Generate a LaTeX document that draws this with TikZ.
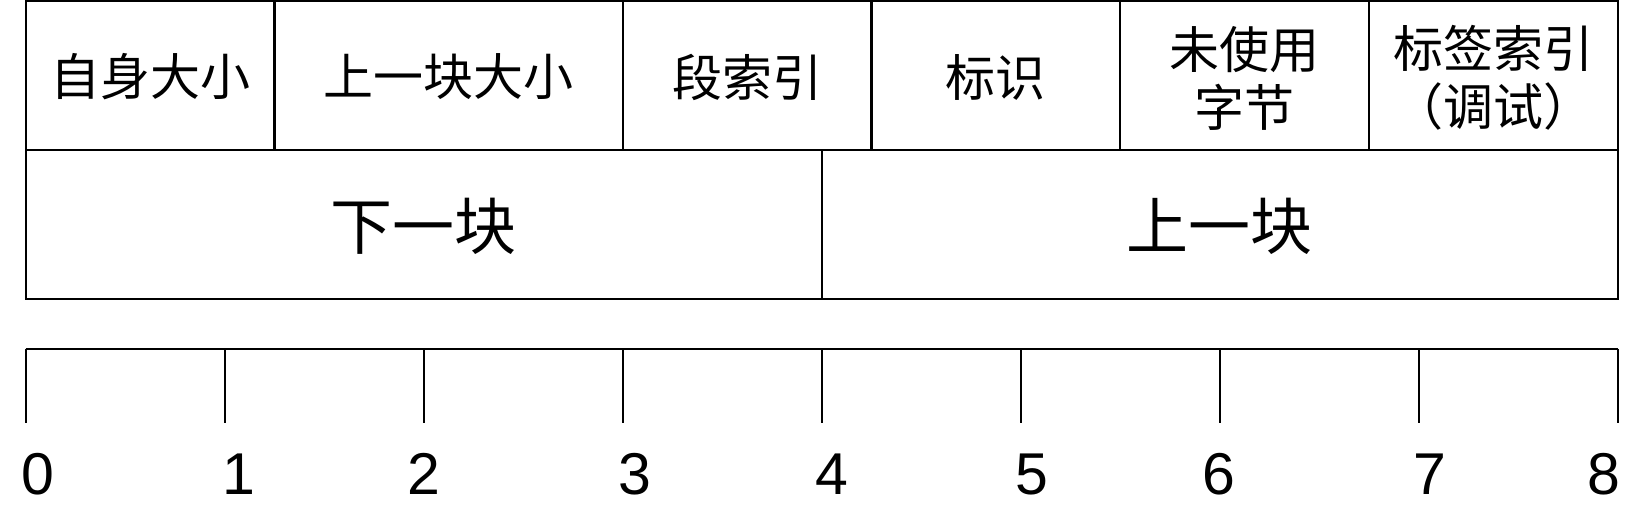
\documentclass[tikz,border=0pt]{standalone}
\usepackage{fontspec}
\setmainfont{Liberation Sans}
\newfontfamily\cjk{Noto Sans CJK SC}
\begin{document}
\begin{tikzpicture}[x=0.5pt,y=-0.5pt,line width=1.1pt,
  topcell/.style={inner sep=0pt,align=center,font=\fontsize{25pt}{29pt}\cjk},
  botcell/.style={inner sep=0pt,font=\fontsize{31pt}{34pt}\cjk},
  digit/.style={inner sep=0pt,font=\fontsize{29.5pt}{31pt}\selectfont}]
\useasboundingbox (0,0) rectangle (1643,512);
\def\xa{25.7}\def\xb{274.45}\def\xc{622.7}\def\xd{871.45}\def\xe{1120.2}\def\xf{1368.95}\def\xg{1617.7}
\def\xm{821.7}
% table
\draw (\xa,1) rectangle (\xg,299);
\draw (\xa,150) -- (\xg,150);
\foreach \x in {\xb,\xc,\xd,\xe,\xf} \draw (\x,1) -- (\x,150);
\draw (\xm,150) -- (\xm,299);
% top row labels
\node[topcell] (selfsize) at (150,77) {自身大小};
\node[topcell] (prevsize) at (448.6,77) {上一块大小};
\node[topcell] (segidx)   at (747,77) {段索引};
\node[topcell] (flag)     at (995.8,77) {标识};
\node[topcell] (unused)   at (1244.6,78) {未使用\\字节};
\node[topcell] (tagidx)   at (1493.3,78) {标签索引\\（调试）};
% bottom row labels
\node[botcell] (next) at (423.7,226) {下一块};
\node[botcell] (prev) at (1219.7,226) {上一块};
% ruler
\draw (\xa,349) -- (\xg,349);
\foreach \i in {0,...,8} \draw (25.7+199*\i,349) -- (25.7+199*\i,423);
\node[digit] (d0) at (38,474) {0};
\node[digit] (d1) at (239,474) {1};
\node[digit] (d2) at (424,474) {2};
\node[digit] (d3) at (635,474) {3};
\node[digit] (d4) at (832,474) {4};
\node[digit] (d5) at (1032,474) {5};
\node[digit] (d6) at (1219,474) {6};
\node[digit] (d7) at (1430,474) {7};
\node[digit] (d8) at (1604,474) {8};
\end{tikzpicture}
\end{document}
